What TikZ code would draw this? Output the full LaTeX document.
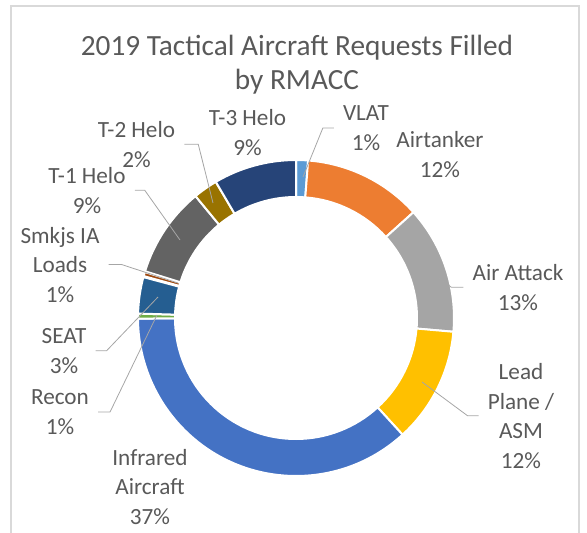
\documentclass[tikz,border=0pt]{standalone}
\usepackage{fontspec}
\setmainfont{Carlito}
\usetikzlibrary{calc}

\definecolor{labelgray}{HTML}{595959}
\definecolor{leadergray}{HTML}{A6A6A6}
\definecolor{framegray}{HTML}{D9D9D9}
\definecolor{vlatblue}{HTML}{5B9BD5}
\definecolor{tankerorange}{HTML}{ED7D31}
\definecolor{attackgray}{HTML}{A5A5A5}
\definecolor{leadgold}{HTML}{FFC000}
\definecolor{irblue}{HTML}{4472C4}
\definecolor{recongreen}{HTML}{70AD47}
\definecolor{seatblue}{HTML}{255E91}
\definecolor{smkjsbrown}{HTML}{9E480E}
\definecolor{heloonegray}{HTML}{636363}
\definecolor{helotwogold}{HTML}{997300}
\definecolor{helothreeblue}{HTML}{264478}

\begin{document}
\begin{tikzpicture}[x=1pt, y=-1pt]
        \tikzstyle{every node}=[text=labelgray, align=center, font=\fontsize{23.2}{29.5}\selectfont]
        \tikzstyle{lbl}=[anchor=base, inner xsep=9pt, inner ysep=0pt]
        \tikzstyle{leader}=[draw=leadergray, line width=0.8pt]
        \tikzstyle{seg}=[draw=white, line width=2pt, line join=miter]
        \useasboundingbox (0,0) rectangle (587,533);
        \draw[framegray, line width=1.2pt] (11,533) -- (11,6) -- (579,6) -- (579,533);
        \coordinate (c) at (296,318);
        % ring segments, angles clockwise from the top
        \foreach \a/\b/\col in {0/4.4/vlatblue, 4.4/48/tankerorange, 48/95/attackgray, 95/137.6/leadgold, 137.6/269.8/irblue, 269.8/271.6/recongreen, 271.6/285/seatblue, 285.4/286.9/smkjsbrown, 287.2/320.5/heloonegray, 320.5/329.5/helotwogold, 329.5/360/helothreeblue}
            \fill[\col, seg] ($(c)+(\a-90:158)$) arc[start angle=\a-90, end angle=\b-90, radius=158] -- ($(c)+(\b-90:121)$) arc[start angle=\b-90, end angle=\a-90, radius=121] -- cycle;
        % labels, placed at the baseline of their last line
        \node[anchor=base, font=\fontsize{29.3}{34}\selectfont] (title) at (297,89) {2019 Tactical Aircraft Requests Filled\\by RMACC};
        \node[lbl] (vlat) at (366,150) {VLAT\\1\%};
        \node[lbl] (airtanker) at (440,177) {Airtanker\\12\%};
        \node[lbl] (airattack) at (518,310) {Air Attack\\13\%};
        \node[lbl] (lead) at (521,468) {Lead\\Plane /\\ASM\\12\%};
        \node[lbl] (infrared) at (150,524) {Infrared\\Aircraft\\37\%};
        \node[lbl] (recon) at (60,434) {Recon\\1\%};
        \node[lbl] (seat) at (64,373) {SEAT\\3\%};
        \node[lbl] (smkjs) at (60,302) {Smkjs IA\\Loads\\1\%};
        \node[lbl] (heloone) at (87,213) {T-1 Helo\\9\%};
        \node[lbl] (helotwo) at (136.5,167) {T-2 Helo\\2\%};
        \node[lbl] (helothree) at (247.5,155) {T-3 Helo\\9\%};
        % leader lines
        \coordinate (vlat-end) at (303,177);
        \coordinate (airattack-end) at (432,273);
        \coordinate (lead-end) at (422,382);
        \coordinate (helotwo-end) at (213,203);
        \coordinate (heloone-end) at (180,240);
        \coordinate (smkjs-end) at (178,283);
        \coordinate (seat-end) at (158,297);
        \coordinate (recon-end) at (157,315);
        \draw[leader] (vlat.west) -- ++(-11,0) -- (vlat-end);
        \draw[leader] (airattack.west) -- ++(-12,0) -- (airattack-end);
        \draw[leader] (lead.west) -- ++(-11,0) -- (lead-end);
        \draw[leader] (helotwo.east) -- ++(14,0) -- (helotwo-end);
        \draw[leader] (heloone.east) -- ++(10,0) -- (heloone-end);
        \draw[leader] (smkjs.east) -- ++(13,0) -- (smkjs-end);
        \draw[leader] (seat.east) -- ++(11,0) -- (seat-end);
        \draw[leader] (recon.east) -- ++(12,0) -- (recon-end);
\end{tikzpicture}
\end{document}
